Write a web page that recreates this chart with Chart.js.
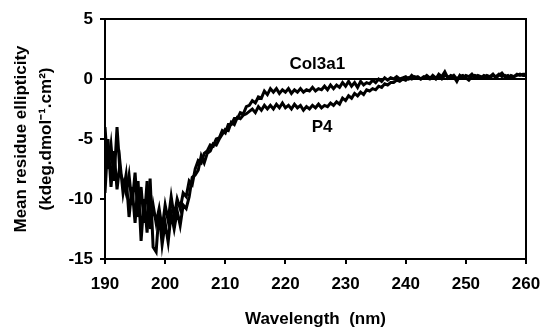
<!DOCTYPE html>
<html>
<head>
<meta charset="utf-8">
<script src="https://cdn.jsdelivr.net/npm/chart.js@4"></script>
<style>
  html, body { margin: 0; padding: 0; background: #fff; }
  #wrap { width: 541px; height: 328px; }
</style>
</head>
<body>
<div id="wrap"><canvas id="cd_chart"></canvas></div>
<script>
// wavelength grid, 0.5 nm steps
const wavelengths = [];
for (let w = 190; w <= 260; w += 0.5) wavelengths.push(w);

const col3a1 = [
  -4.0, -7.5, -5.5, -8.5, -4.0, -7.8, -8.5, -9.5, -8.0, -10.5,
  -7.8, -11.5, -9.0, -12.0, -8.5, -12.5, -10.5, -12.0, -10.8, -12.5,
  -10.5, -11.8, -9.8, -11.5, -10.0, -10.8, -9.5, -9.8, -8.5, -8.8,
  -7.5, -6.8, -7.0, -6.2, -6.0, -5.5, -5.6, -5.0, -4.9, -4.3,
  -4.5, -3.8, -3.8, -3.3, -3.3, -2.8, -2.9, -2.3, -2.2, -1.8,
  -2.0, -1.5, -1.6, -1.0, -1.3, -0.8, -1.1, -0.8, -1.2, -0.9,
  -1.1, -0.8, -1.2, -0.9, -1.1, -0.8, -1.1, -0.9, -1.0, -0.7,
  -1.0, -0.8, -0.9, -0.6, -0.9, -0.5, -0.8, -0.5, -0.7, -0.3,
  -0.6, -0.2, -0.6, -0.3, -0.7, -0.2, -0.5, -0.3, -0.4, -0.1,
  -0.3, 0.0, -0.2, 0.1, -0.1, 0.1, 0.0, 0.2, 0.0, 0.1,
  0.2, 0.0, 0.3, 0.1, 0.2, 0.0, 0.1, 0.3, 0.1, 0.2,
  0.0, 0.4, 0.2, 0.6, 0.1, 0.3, 0.2, -0.2, 0.3, 0.1,
  0.3, 0.2, 0.4, 0.1, 0.3, 0.2, 0.1, 0.3, 0.2, 0.4,
  0.1, 0.3, 0.5, 0.2, 0.3, 0.1, 0.2, 0.4, 0.3, 0.4,
  0.4
];

const p4 = [
  -9.5, -5.0, -9.0, -6.0, -9.2, -7.0, -9.5, -8.0, -11.5, -9.0,
  -12.0, -8.5, -13.5, -10.0, -12.8, -8.3, -14.0, -14.4, -11.0, -13.8,
  -12.0, -13.6, -11.2, -12.5, -11.0, -12.2, -10.5, -10.8, -9.8, -8.2,
  -8.0, -7.6, -6.4, -7.0, -6.2, -6.0, -5.4, -5.5, -5.0, -4.6,
  -4.2, -4.3, -3.6, -3.8, -3.2, -3.3, -3.0, -2.9, -2.7, -2.5,
  -2.8, -2.3, -2.6, -2.2, -2.5, -2.2, -2.5, -2.1, -2.4, -2.0,
  -2.4, -2.2, -2.5, -2.1, -2.4, -2.2, -2.6, -2.3, -2.5, -2.2,
  -2.4, -2.1, -2.4, -2.2, -2.3, -2.0, -2.2, -1.9, -2.1, -1.6,
  -1.8, -1.4, -1.6, -1.2, -1.4, -1.1, -1.3, -0.9, -1.0, -0.8,
  -0.9, -0.6, -0.7, -0.4, -0.5, -0.3, -0.3, -0.1, -0.2, 0.0,
  -0.1, 0.1, 0.0, 0.2, 0.1, 0.0, 0.2, 0.1, 0.0, 0.3,
  0.1, 0.2, 0.0, 0.3, 0.2, 0.1, 0.3, 0.0, 0.2, 0.3,
  0.1, -0.1, 0.2, 0.3, 0.2, 0.1, 0.3, 0.2, 0.1, 0.3,
  0.2, 0.4, 0.2, 0.3, 0.1, 0.3, 0.2, 0.3, 0.4, 0.3,
  0.3
];

const curve_labels = [
  { text: "Col3a1", x: 225.3, y: 1.2 },
  { text: "P4", x: 226.1, y: -4.0 }
];

const x_ticks = [190, 200, 210, 220, 230, 240, 250, 260];
const y_ticks = [-15, -10, -5, 0, 5];

function to_points(ys) {
  return ys.map((y, i) => ({ x: wavelengths[i], y: y }));
}

const FONT = "'Liberation Sans', Arial, sans-serif";

// draws the box round the plot and the curve names
const frame_plugin = {
  id: "frame",
  afterDatasetsDraw(chart) {
    const ctx = chart.ctx;
    const a = chart.chartArea;
    ctx.save();
    ctx.strokeStyle = "#000";
    ctx.lineWidth = 2;
    ctx.strokeRect(a.left, a.top, a.right - a.left, a.bottom - a.top);
    ctx.fillStyle = "#000";
    ctx.font = "bold 17px " + FONT;
    ctx.textAlign = "center";
    ctx.textBaseline = "middle";
    curve_labels.forEach(l => {
      ctx.fillText(l.text, chart.scales.x.getPixelForValue(l.x), chart.scales.y.getPixelForValue(l.y));
    });
    ctx.restore();
  }
};

const ctx = document.getElementById("cd_chart").getContext("2d");
new Chart(ctx, {
  type: "line",
  data: {
    datasets: [
      { label: "zero", data: [{ x: 190, y: 0 }, { x: 260, y: 0 }], borderColor: "#000", borderWidth: 2 },
      { label: "Col3a1", data: to_points(col3a1), borderColor: "#000", borderWidth: 3 },
      { label: "P4", data: to_points(p4), borderColor: "#000", borderWidth: 3 }
    ]
  },
  options: {
    responsive: true,
    maintainAspectRatio: false,
    animation: false,
    elements: { point: { radius: 0 }, line: { tension: 0 } },
    layout: { padding: { top: 19, right: 15, bottom: 0, left: 0 } },
    plugins: { legend: { display: false }, tooltip: { enabled: false } },
    scales: {
      x: {
        type: "linear",
        min: 190, max: 260,
        afterBuildTicks: s => { s.ticks = x_ticks.map(v => ({ value: v })); },
        afterFit: s => { s.height = 69; s.paddingLeft = 0; s.paddingRight = 0; },
        grid: { drawOnChartArea: false, color: "#000", tickLength: 5, lineWidth: 2 },
        border: { color: "#000", width: 2 },
        ticks: { color: "#000", padding: 10, font: { family: FONT, size: 17, weight: "bold" } },
        title: {
          display: true, text: "Wavelength  (nm)", color: "#000",
          font: { family: FONT, size: 17, weight: "bold", lineHeight: 1 }, padding: { top: 0, bottom: 0 }
        }
      },
      y: {
        min: -15, max: 5,
        afterBuildTicks: s => { s.ticks = y_ticks.map(v => ({ value: v })); },
        afterFit: s => { s.width = 105; s.paddingTop = 0; s.paddingBottom = 0; },
        grid: { drawOnChartArea: false, color: "#000", tickLength: 5, lineWidth: 2 },
        border: { color: "#000", width: 2 },
        ticks: { color: "#000", padding: 7, font: { family: FONT, size: 17, weight: "bold" } },
        title: {
          display: true, text: ["Mean residue ellipticity", "(kdeg.dmol\u207B\u00B9.cm\u00B2)"], color: "#000",
          font: { family: FONT, size: 17, weight: "bold", lineHeight: 1.47 }, padding: { top: 9, bottom: 0 }
        }
      }
    }
  },
  plugins: [frame_plugin]
});
</script>
</body>
</html>
